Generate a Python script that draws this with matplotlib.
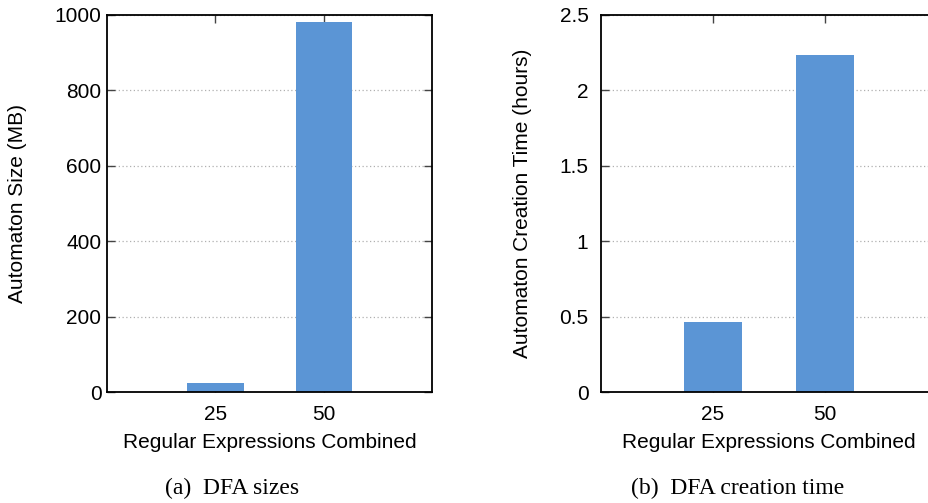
import matplotlib
matplotlib.use('Agg')
import matplotlib.pyplot as plt

# data
combined = ['25', '50']
size_mb = [23, 982]
time_hours = [0.462, 2.233]

plt.rcParams['font.family'] = ['Liberation Sans', 'DejaVu Sans']
plt.rcParams['font.size'] = 15

bar_color = '#5b95d5'

fig = plt.figure(figsize=(9.29, 5.03), dpi=100)
ax1 = fig.add_axes([107 / 929, 111 / 503, 325 / 929, 377 / 503])
ax2 = fig.add_axes([601 / 929, 111 / 503, 336 / 929, 377 / 503])


def style(ax, vals, ymax, yticks, ticklabels, ylabel, ypad, ylab_x):
    ax.set_axisbelow(True)
    x = range(len(combined))
    ax.bar(x, vals, width=0.52, color=bar_color, zorder=2)
    ax.set_xlim(-1, 2)
    ax.set_ylim(0, ymax)
    ax.set_xticks(list(x))
    ax.set_xticklabels(combined)
    ax.set_yticks(yticks)
    ax.set_yticklabels(ticklabels)
    ax.tick_params(axis='both', direction='in', length=6, width=1,
                   color='#444444', top=True, right=True)
    ax.tick_params(axis='x', pad=9)
    ax.tick_params(axis='y', pad=ypad)
    for s in ax.spines.values():
        s.set_linewidth(1.3)
    ax.yaxis.grid(True, linestyle=(0, (1, 2)), color='#b0b0b0', linewidth=0.9)
    ax.set_ylabel(ylabel)
    ax.yaxis.set_label_coords(ylab_x, 0.5)
    ax.set_xlabel('Regular Expressions Combined')
    ax.xaxis.set_label_coords(0.5, -0.11)


style(ax1, size_mb, 1000, [0, 200, 400, 600, 800, 1000],
      ['0', '200', '400', '600', '800', '1000'],
      'Automaton Size (MB)', 4, -0.246)
style(ax2, time_hours, 2.5, [0, 0.5, 1, 1.5, 2, 2.5],
      ['0', '0.5', '1', '1.5', '2', '2.5'],
      'Automaton Creation Time (hours)', 9, -0.205)

fig.text(232 / 929, 1 - 488 / 503, '(a)  DFA sizes', family='Liberation Serif',
         fontsize=17, ha='center', va='center')
fig.text(738 / 929, 1 - 488 / 503, '(b)  DFA creation time', family='Liberation Serif',
         fontsize=17, ha='center', va='center')

fig.savefig('out.png', dpi=100)
